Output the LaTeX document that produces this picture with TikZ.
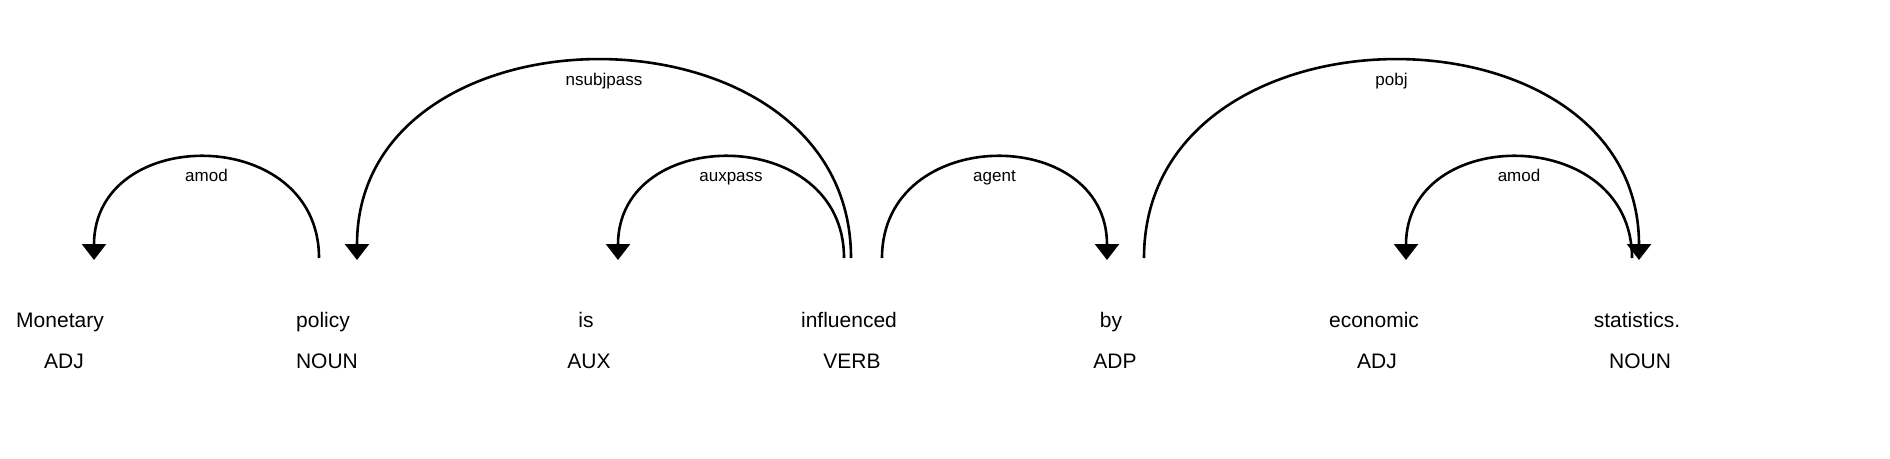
\documentclass[tikz,border=0pt]{standalone}
\usepackage{fontspec}
\setmainfont{Liberation Sans}
\usetikzlibrary{arrows.meta}
\begin{document}
\begin{tikzpicture}[x=1pt,y=-1pt,
  word/.style={anchor=base, inner sep=0pt, font=\fontsize{21}{25}\selectfont},
  lbl/.style={anchor=base, inner sep=0pt, font=\fontsize{17}{20}\selectfont},
  arc/.style={line width=2.6pt, -{Triangle[width=24pt,length=16pt]}}]
\useasboundingbox (0,0) rectangle (1890,458);
% words
\node[word] (w0) at (60,327) {Monetary};
\node[word] (w1) at (323,327) {policy};
\node[word] (w2) at (586,327) {is};
\node[word] (w3) at (849,327) {influenced};
\node[word] (w4) at (1111,327) {by};
\node[word] (w5) at (1374,327) {economic};
\node[word] (w6) at (1637,327) {statistics.};
% tags
\node[word] (t0) at (64,368) {ADJ};
\node[word] (t1) at (327,368) {NOUN};
\node[word] (t2) at (589,368) {AUX};
\node[word] (t3) at (852,368) {VERB};
\node[word] (t4) at (1115,368) {ADP};
\node[word] (t5) at (1377,368) {ADJ};
\node[word] (t6) at (1640,368) {NOUN};
% arc end points
\coordinate (s1) at (319,258);  \coordinate (e1) at (94,260);
\coordinate (s2) at (851,258);  \coordinate (e2) at (357,260);
\coordinate (s3) at (844,258);  \coordinate (e3) at (618,260);
\coordinate (s4) at (882,258);  \coordinate (e4) at (1107,260);
\coordinate (s5) at (1144,258); \coordinate (e5) at (1639,260);
\coordinate (s6) at (1632,258); \coordinate (e6) at (1406,260);
% arcs
\draw[arc] (s1) .. controls +(0,-134) and +(0,-136) .. (e1)
  node[lbl,pos=0.5,yshift=-24pt] (l1) {amod};
\draw[arc] (s2) .. controls +(0,-263) and +(0,-265) .. (e2)
  node[lbl,pos=0.5,yshift=-24pt] (l2) {nsubjpass};
\draw[arc] (s3) .. controls +(0,-134) and +(0,-136) .. (e3)
  node[lbl,pos=0.5,yshift=-24pt] (l3) {auxpass};
\draw[arc] (s4) .. controls +(0,-134) and +(0,-136) .. (e4)
  node[lbl,pos=0.5,yshift=-24pt] (l4) {agent};
\draw[arc] (s5) .. controls +(0,-263) and +(0,-265) .. (e5)
  node[lbl,pos=0.5,yshift=-24pt] (l5) {pobj};
\draw[arc] (s6) .. controls +(0,-134) and +(0,-136) .. (e6)
  node[lbl,pos=0.5,yshift=-24pt] (l6) {amod};
\end{tikzpicture}
\end{document}
